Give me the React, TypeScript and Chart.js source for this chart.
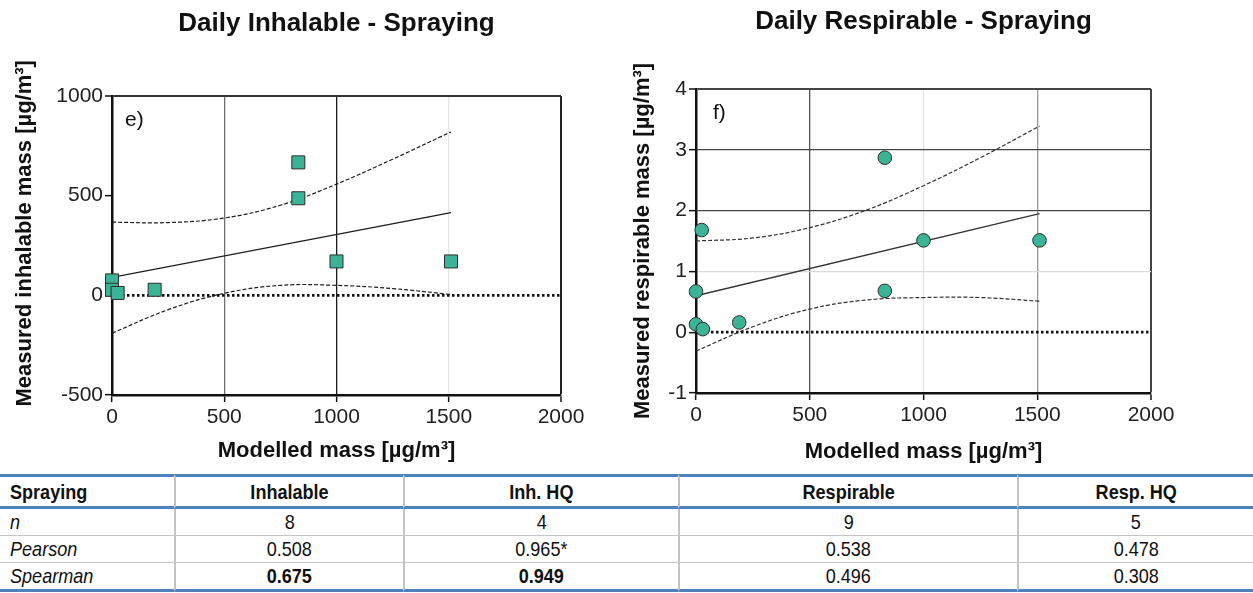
import React, { useEffect, useRef } from 'react';
import { Chart, registerables } from 'chart.js';

Chart.register(...registerables);

// ---------- data ----------
const xTicks = [0, 500, 1000, 1500, 2000];

// Daily Inhalable - Spraying
const inhModelled = [0, 0, 25, 190, 830, 830, 1000, 1510];
const inhMeasured = [75, 28, 12, 28, 667, 487, 170, 170];
const inhFitX = [0, 1510];
const inhFitY = [90, 415];
const inhBandX = [0, 250, 500, 750, 1000, 1250, 1510];
const inhBandUpper = [367, 365, 388, 452, 558, 683, 820];
const inhBandLower = [-190, -72, 10, 50, 50, 34, 4];
const inhYTicks = [-500, 0, 500, 1000];

// Daily Respirable - Spraying
const respModelled = [0, 25, 0, 30, 190, 830, 830, 1000, 1510];
const respMeasured = [0.67, 1.68, 0.13, 0.05, 0.16, 2.87, 0.68, 1.51, 1.51];
const respFitX = [0, 1510];
const respFitY = [0.6, 1.95];
const respBandX = [0, 250, 500, 750, 1000, 1250, 1510];
const respBandUpper = [1.5, 1.55, 1.72, 2.01, 2.41, 2.87, 3.39];
const respBandLower = [-0.31, 0.09, 0.38, 0.53, 0.57, 0.57, 0.51];
const respYTicks = [-1, 0, 1, 2, 3, 4];

const zeroX = [0, 2000];
const zeroY = [0, 0];

// table
const tableHeader = ['Spraying', 'Inhalable', 'Inh. HQ', 'Respirable', 'Resp. HQ'];
const rowLabels = ['n', 'Pearson', 'Spearman'];
const inhalableStats = ['8', '0.508', '0.675'];
const inhHQStats = ['4', '0.965*', '0.949'];
const respirableStats = ['9', '0.538', '0.496'];
const respHQStats = ['5', '0.478', '0.308'];
const boldStats = [
  [false, false, false, false],
  [false, false, false, false],
  [true, true, false, false],
];

// ---------- styling ----------
const FONT = "'Liberation Sans', Arial, Helvetica, sans-serif";
const NARROW = "'Liberation Sans Narrow', 'Arial Narrow', 'Liberation Sans', Arial, sans-serif";
const TEAL = '#3bb395';

const toXY = (xs: number[], ys: number[]) => xs.map((x, i) => ({ x, y: ys[i] }));

const panelLabelPlugin = {
  id: 'panelLabel',
  afterDraw(chart: any, _args: any, opts: any) {
    if (!opts || !opts.text) return;
    const { ctx, chartArea } = chart;
    ctx.save();
    ctx.font = `21px ${FONT}`;
    ctx.fillStyle = '#111';
    ctx.textBaseline = 'middle';
    ctx.textAlign = 'left';
    ctx.fillText(opts.text, chartArea.left + opts.dx, chartArea.top + opts.dy);
    ctx.restore();
  },
};

interface Cfg {
  mx: number[]; my: number[];
  pointStyle: string; pointRadius: number;
  fitX: number[]; fitY: number[];
  bandX: number[]; bandU: number[]; bandL: number[];
  yTicks: number[];
  title: string; titlePadTop: number; titlePadBottom: number;
  yTitle: string; yTitlePad: number; yWidth: number;
  xTitlePad: number; xHeight: number;
  padRight: number;
  gridX: Record<number, string>; gridY: Record<number, string>;
  label: string; labelDx: number; labelDy: number;
  lineColor: string;
}

function buildChart(canvas: HTMLCanvasElement, c: Cfg) {
  const xMax = xTicks[xTicks.length - 1];
  const yMax = c.yTicks[c.yTicks.length - 1];
  return new Chart(canvas, {
    type: 'scatter',
    data: {
      datasets: [
        {
          label: 'measured',
          data: toXY(c.mx, c.my),
          pointStyle: c.pointStyle as any,
          pointRadius: c.pointRadius,
          pointHoverRadius: c.pointRadius,
          backgroundColor: TEAL,
          borderColor: '#2e2e2e',
          borderWidth: 1,
          showLine: false,
          clip: false,
        },
        {
          label: 'fit',
          data: toXY(c.fitX, c.fitY),
          showLine: true,
          borderColor: c.lineColor,
          borderWidth: 1.4,
          pointRadius: 0,
        },
        {
          label: 'upper',
          data: toXY(c.bandX, c.bandU),
          showLine: true,
          borderColor: c.lineColor,
          borderWidth: 1.2,
          borderDash: [4, 2],
          pointRadius: 0,
          tension: 0.4,
        },
        {
          label: 'lower',
          data: toXY(c.bandX, c.bandL),
          showLine: true,
          borderColor: c.lineColor,
          borderWidth: 1.2,
          borderDash: [4, 2],
          pointRadius: 0,
          tension: 0.4,
        },
        {
          label: 'zero',
          data: toXY(zeroX, zeroY),
          showLine: true,
          borderColor: '#111',
          borderWidth: 2.8,
          borderDash: [2.5, 2.5],
          pointRadius: 0,
        },
      ],
    } as any,
    options: {
      animation: false,
      responsive: false,
      maintainAspectRatio: false,
      events: [],
      layout: { padding: { left: 0, right: c.padRight, top: 0, bottom: 0 } },
      plugins: {
        legend: { display: false },
        tooltip: { enabled: false },
        title: {
          display: true,
          text: c.title,
          color: '#111',
          font: { family: FONT, size: 26, weight: 'bold' },
          padding: { top: c.titlePadTop, bottom: c.titlePadBottom },
          fullSize: false,
        },
        panelLabel: { text: c.label, dx: c.labelDx, dy: c.labelDy },
      } as any,
      scales: {
        x: {
          type: 'linear',
          min: xTicks[0],
          max: xMax,
          afterBuildTicks: (s: any) => { s.ticks = xTicks.map((v) => ({ value: v })); },
          afterFit: (s: any) => { s.height = c.xHeight; },
          ticks: {
            autoSkip: false,
            maxRotation: 0,
            padding: 3,
            color: '#222',
            font: { family: FONT, size: 21 },
            callback: (v: any) => String(v),
          },
          grid: {
            color: (ctx: any) => c.gridX[ctx.tick?.value] || 'rgba(0,0,0,0)',
            lineWidth: (ctx: any) => (ctx.tick?.value === xMax ? 2 : 1.3),
            drawTicks: true,
            tickLength: 7,
            tickColor: '#111',
            tickWidth: 1.5,
          },
          border: { display: true, color: '#111', width: 2.5 },
          title: {
            display: true,
            text: 'Modelled mass [µg/m³]',
            color: '#111',
            font: { family: FONT, size: 22, weight: 'bold' },
            padding: { top: 0, bottom: c.xTitlePad },
          },
        },
        y: {
          type: 'linear',
          min: c.yTicks[0],
          max: yMax,
          afterBuildTicks: (s: any) => { s.ticks = c.yTicks.map((v) => ({ value: v })); },
          afterFit: (s: any) => { s.width = c.yWidth; },
          ticks: {
            autoSkip: false,
            padding: 2,
            color: '#222',
            font: { family: FONT, size: 21 },
            callback: (v: any) => String(v),
          },
          grid: {
            color: (ctx: any) => c.gridY[ctx.tick?.value] || 'rgba(0,0,0,0)',
            lineWidth: (ctx: any) => (ctx.tick?.value === yMax ? 2 : 1.3),
            drawTicks: true,
            tickLength: 7,
            tickColor: '#111',
            tickWidth: 1.5,
          },
          border: { display: true, color: '#111', width: 2.5 },
          title: {
            display: true,
            text: c.yTitle,
            color: '#111',
            font: { family: FONT, size: 22, weight: 'bold' },
            padding: { top: c.yTitlePad, bottom: 0 },
          },
        },
      },
    } as any,
    plugins: [panelLabelPlugin as any],
  });
}

const leftCfg: Cfg = {
  mx: inhModelled, my: inhMeasured,
  pointStyle: 'rect', pointRadius: 9.2,
  fitX: inhFitX, fitY: inhFitY,
  bandX: inhBandX, bandU: inhBandUpper, bandL: inhBandLower,
  yTicks: inhYTicks,
  title: 'Daily Inhalable - Spraying', titlePadTop: 8.4, titlePadBottom: 56.4,
  yTitle: '    Measured inhalable mass [µg/m³]', yTitlePad: 11.8, yWidth: 112,
  xTitlePad: 5.8, xHeight: 75,
  padRight: 39,
  gridX: { 500: '#707070', 1000: '#1a1a1a', 1500: '#e4e4e4', 2000: '#222' },
  gridY: { 1000: '#333' },
  label: 'e)', labelDx: 13, labelDy: 24,
  lineColor: '#1e1e1e',
};

const rightCfg: Cfg = {
  mx: respModelled, my: respMeasured,
  pointStyle: 'circle', pointRadius: 6.8,
  fitX: respFitX, fitY: respFitY,
  bandX: respBandX, bandU: respBandUpper, bandL: respBandLower,
  yTicks: respYTicks,
  title: 'Daily Respirable - Spraying', titlePadTop: 6.4, titlePadBottom: 51.4,
  yTitle: 'Measured respirable mass [µg/m³]', yTitlePad: 19.8, yWidth: 86,
  xTitlePad: 4.8, xHeight: 77,
  padRight: 102,
  gridX: { 500: '#555', 1000: '#e6e6e6', 1500: '#999', 2000: '#444' },
  gridY: { 1: '#dcdcdc', 2: '#444', 3: '#444', 4: '#444' },
  label: 'f)', labelDx: 17, labelDy: 24,
  lineColor: '#333',
};

const colWidths = [174, 229, 275, 339, 236];
const BLUE = '#4f81bd';
const GREY = '#c4c4c4';

function Txt({ children, left }: { children: React.ReactNode; left?: boolean }) {
  return (
    <span
      style={{
        display: 'inline-block',
        transform: 'scaleX(0.86)',
        transformOrigin: left ? 'left center' : 'center center',
      }}
    >
      {children}
    </span>
  );
}

export default function App() {
  const leftRef = useRef<HTMLCanvasElement>(null);
  const rightRef = useRef<HTMLCanvasElement>(null);

  useEffect(() => {
    const a = buildChart(leftRef.current as HTMLCanvasElement, leftCfg);
    const b = buildChart(rightRef.current as HTMLCanvasElement, rightCfg);
    return () => { a.destroy(); b.destroy(); };
  }, []);

  const statCols = [inhalableStats, inhHQStats, respirableStats, respHQStats];

  const cellBase: React.CSSProperties = {
    boxSizing: 'border-box',
    padding: 0,
    verticalAlign: 'middle',
    fontFamily: NARROW,
    fontSize: 21,
    color: '#111',
    lineHeight: 'normal',
    whiteSpace: 'nowrap',
    overflow: 'hidden',
  };

  return (
    <div style={{ position: 'absolute', left: 0, top: 0, width: 1253, height: 593, background: '#fff', overflow: 'hidden' }}>
      <canvas ref={leftRef} width={600} height={470} style={{ position: 'absolute', left: 0, top: 0, width: 600, height: 470 }} />
      <canvas ref={rightRef} width={643} height={470} style={{ position: 'absolute', left: 610, top: 0, width: 643, height: 470 }} />
      <table
        style={{
          position: 'absolute', left: 0, top: 474, width: 1253,
          borderCollapse: 'separate', borderSpacing: 0, tableLayout: 'fixed',
        }}
      >
        <colgroup>
          {colWidths.map((w, i) => <col key={i} style={{ width: w }} />)}
        </colgroup>
        <thead>
          <tr>
            {tableHeader.map((h, i) => (
              <th
                key={i}
                style={{
                  ...cellBase,
                  height: 35,
                  fontWeight: 'bold',
                  textAlign: i === 0 ? 'left' : 'center',
                  paddingLeft: i === 0 ? 10 : 0,
                  borderTop: `3px solid ${BLUE}`,
                  borderBottom: `3px solid ${BLUE}`,
                  borderLeft: i === 0 ? 'none' : `2px solid ${GREY}`,
                }}
              >
                <Txt left={i === 0}>{h}</Txt>
              </th>
            ))}
          </tr>
        </thead>
        <tbody>
          {rowLabels.map((r, ri) => {
            const last = ri === rowLabels.length - 1;
            return (
              <tr key={ri}>
                <td
                  style={{
                    ...cellBase,
                    height: last ? 29 : 27,
                    fontStyle: 'italic',
                    textAlign: 'left',
                    paddingLeft: 10,
                    borderBottom: last ? `3px solid ${BLUE}` : `1px solid ${GREY}`,
                  }}
                >
                  <Txt left>{r}</Txt>
                </td>
                {statCols.map((col, ci) => (
                  <td
                    key={ci}
                    style={{
                      ...cellBase,
                      height: last ? 29 : 27,
                      textAlign: 'center',
                      fontWeight: boldStats[ri][ci] ? 'bold' : 'normal',
                      borderLeft: `2px solid ${GREY}`,
                      borderBottom: last ? `3px solid ${BLUE}` : `1px solid ${GREY}`,
                    }}
                  >
                    <Txt>{col[ri]}</Txt>
                  </td>
                ))}
              </tr>
            );
          })}
        </tbody>
      </table>
    </div>
  );
}
